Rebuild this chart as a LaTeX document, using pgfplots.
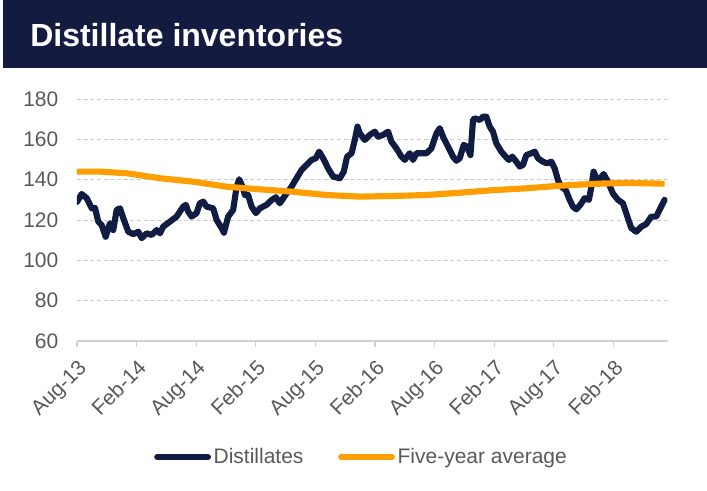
\documentclass[border=0pt]{standalone}
\usepackage{pgfplots}
\pgfplotsset{compat=1.18}
\usepackage{fontspec}
\setmainfont{Liberation Sans}
\definecolor{navy}{HTML}{111C42}
\definecolor{barnavy}{HTML}{131C40}
\definecolor{avgorange}{HTML}{FF9E00}
\definecolor{txtgray}{HTML}{595959}

% months since Aug-13, inventory
\pgfplotstableread{
m v
0 129
0.47 132.9
0.98 130.8
1.48 125.8
1.81 126
2.14 119.2
2.48 117.5
2.89 111.7
3.32 118.4
3.65 115
3.99 125
4.33 125.8
4.66 120.9
5.16 114.2
5.66 113
6.17 114.2
6.51 111
7.01 113.4
7.52 112.6
8.02 115
8.35 113.4
8.68 116.7
9.36 119.2
10.03 121.7
10.69 126.6
10.97 127.5
11.2 124.1
11.54 121.7
12.04 123.4
12.37 128.3
12.71 129.1
13.05 126.6
13.71 125.8
14.06 120
14.56 116
14.79 113.7
15.22 121.7
15.72 125
16.07 136.5
16.33 140.2
16.67 136.5
16.9 132.4
17.23 132.4
17.58 126.6
18.01 123.4
18.41 125.8
19.08 127.5
19.59 129.9
20.02 131.3
20.42 128.3
21.1 133.2
21.6 136.5
22.1 140.7
22.61 144.8
23.11 147.3
23.61 149.8
24.04 150.6
24.38 153.9
24.78 150.6
25.28 145.6
25.79 141.5
26.46 140.7
26.86 144
27.19 151.4
27.64 153.1
27.97 159.7
28.24 166.3
28.47 163
28.97 159.7
29.48 162.2
29.98 163.8
30.31 161.3
30.81 162.2
31.32 163.8
31.66 158.8
32.16 155.5
32.67 151.4
33 149.8
33.5 153.1
33.83 149.8
34.18 153.1
34.68 153.1
35.18 153.1
35.68 155.5
36.19 163
36.52 165.5
36.85 161.3
37.35 156.4
37.86 151.4
38.2 149.4
38.53 150.6
38.93 157.2
39.27 156.4
39.61 152.2
39.87 169.6
40.04 170.4
40.54 169.6
40.87 171.2
41.21 171.2
41.55 166.3
41.88 163.8
42.22 158
42.72 153.9
43.16 151.4
43.49 149.8
43.83 151.4
44.23 148.9
44.57 146.5
44.9 147.3
45.24 152.2
45.74 153.1
46.08 153.9
46.41 150.6
46.91 148.9
47.31 148.1
47.76 148.9
48.09 145.6
48.42 139.8
48.76 136.5
49.2 134.9
49.6 130
49.93 126.6
50.27 125.3
50.67 127.5
51.11 130.8
51.54 130
51.78 136.5
52.01 144
52.28 140.7
52.62 140.2
53.02 142.8
53.45 139
53.95 133.2
54.46 130
54.96 128.3
55.46 120.9
55.8 116
56.3 114.2
56.81 116.7
57.31 118
57.81 121.7
58.32 121.7
58.65 125
59.15 130
}\distillates

\pgfplotstableread{
m v
0 144
2.3 144
5 143.2
8.35 140.7
11.7 139
15.1 136.5
17.1 135.7
20.4 134.5
21.8 134
25.1 132.4
28.5 131.6
31.8 131.9
35.2 132.4
38.5 133.5
41.9 134.8
45.2 135.7
48.6 137
51.9 137.9
55.3 138.4
59.15 138
}\fiveyear

\begin{document}
\begin{tikzpicture}
\path[use as bounding box] (0pt,0pt) rectangle (530.25pt,367.5pt);
\fill[barnavy] (2.25pt,316.5pt) rectangle (530.25pt,367.5pt);
\node[anchor=west,text=white,font=\bfseries\fontsize{24}{24}\selectfont,inner sep=0pt] at (22.5pt,341.25pt) {Distillate inventories};
\begin{axis}[
    at={(57.75pt,111.75pt)}, anchor=south west,
    scale only axis,
    width=443.25pt, height=181.5pt,
    xmin=0, xmax=59.5,
    ymin=60, ymax=180,
    ytick={60,80,...,180},
    xtick={0,6,...,54},
    xticklabels={Aug-13,Feb-14,Aug-14,Feb-15,Aug-15,Feb-16,Aug-16,Feb-17,Aug-17,Feb-18},
    axis x line*=bottom, axis y line*=left,
    x axis line style={draw=gray!35, line width=1pt, -},
    y axis line style={draw=none},
    ytick style={draw=none},
    xtick style={draw=gray!35, line width=0.8pt},
    xtick align=outside,
    major tick length=4.5pt,
    ymajorgrids,
    grid style={densely dashed, gray!40, line width=0.5pt},
    /pgf/number format/assume math mode=true,
    tick label style={font=\fontsize{15.75}{15.75}\selectfont, text=txtgray},
    xticklabel style={rotate=45, anchor=north east, inner sep=1pt},
    xticklabel shift=7pt,
    yticklabel style={xshift=-10.5pt},
    legend style={at={(0.482,-0.479)}, anchor=center, draw=none, fill=none,
        font=\fontsize{15.75}{15.75}\selectfont, text=txtgray,
        /tikz/every even column/.append style={column sep=24pt},
        inner sep=0pt},
    legend columns=2,
    legend image code/.code={\draw[#1, line cap=round] (0pt,0pt) -- (38pt,0pt);},
]
\addplot[navy, line width=4.6pt, line join=round, line cap=round] table[x=m,y=v] {\distillates};
\addlegendentry{Distillates}
\addplot[avgorange, line width=4.6pt, line join=round] table[x=m,y=v] {\fiveyear};
\addlegendentry{Five-year average}
\end{axis}
\end{tikzpicture}
\end{document}
